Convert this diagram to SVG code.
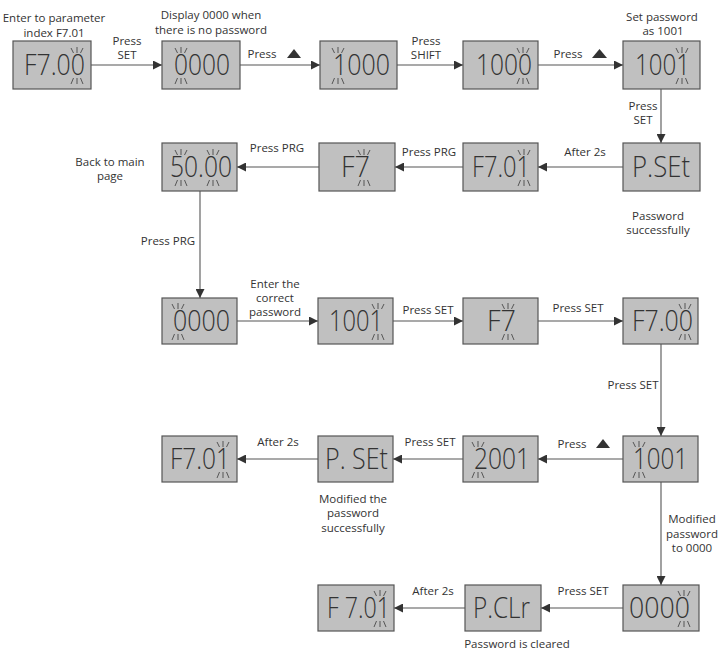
<svg xmlns="http://www.w3.org/2000/svg" xmlns:xlink="http://www.w3.org/1999/xlink" width="723" height="650" viewBox="0 0 723 650">
<style>
.box{fill:#c0c0c0;stroke:#555;stroke-width:1.2}
.disp{font-family:"Open Sans","Noto Sans",sans-serif;font-size:29px;font-weight:300;fill:#333}
.lbl{font-family:"Open Sans","Noto Sans",sans-serif;font-size:11.5px;fill:#333;text-anchor:middle}
.conn line{stroke:#555;stroke-width:1.1;fill:none}
.sp line{stroke:#555;stroke-width:1}
.tri{fill:#333}
</style>
<defs>
<marker id="ah" markerUnits="userSpaceOnUse" viewBox="0 0 10 10" markerWidth="9" markerHeight="9" refX="10" refY="5" orient="auto">
<path d="M0,0 L10,5 L0,10 z" fill="#333"/>
</marker>
<g id="sp" class="sp">
<line x1="-6" y1="-27" x2="-3.5" y2="-22"/>
<line x1="0" y1="-28" x2="0" y2="-22"/>
<line x1="6" y1="-27" x2="3.5" y2="-22"/>
<line x1="-3.5" y1="3" x2="-6" y2="9"/>
<line x1="0" y1="3" x2="0" y2="9"/>
<line x1="3.5" y1="3" x2="6" y2="9"/>
</g>
</defs>
<rect width="723" height="650" fill="#fff"/>

<g class="conn">
<line x1="91" y1="65" x2="162" y2="65" marker-end="url(#ah)"/>
<line x1="240" y1="65" x2="320" y2="65" marker-end="url(#ah)"/>
<line x1="397" y1="65" x2="463" y2="65" marker-end="url(#ah)"/>
<line x1="538" y1="65" x2="623" y2="65" marker-end="url(#ah)"/>
<line x1="661" y1="89" x2="661" y2="143" marker-end="url(#ah)"/>
<line x1="623" y1="167" x2="538" y2="167" marker-end="url(#ah)"/>
<line x1="463" y1="167" x2="395" y2="167" marker-end="url(#ah)"/>
<line x1="319" y1="167" x2="237" y2="167" marker-end="url(#ah)"/>
<line x1="200" y1="191" x2="200" y2="298" marker-end="url(#ah)"/>
<line x1="237" y1="321" x2="318" y2="321" marker-end="url(#ah)"/>
<line x1="393" y1="321" x2="463" y2="321" marker-end="url(#ah)"/>
<line x1="538" y1="321" x2="623" y2="321" marker-end="url(#ah)"/>
<line x1="661" y1="344" x2="661" y2="436" marker-end="url(#ah)"/>
<line x1="623" y1="459" x2="538" y2="459" marker-end="url(#ah)"/>
<line x1="463" y1="459" x2="393" y2="459" marker-end="url(#ah)"/>
<line x1="318" y1="459" x2="237" y2="459" marker-end="url(#ah)"/>
<line x1="661" y1="482" x2="661" y2="585" marker-end="url(#ah)"/>
<line x1="623" y1="608" x2="541" y2="608" marker-end="url(#ah)"/>
<line x1="465" y1="608" x2="394" y2="608" marker-end="url(#ah)"/>
</g>

<g id="n1"><rect class="box" x="13" y="41" width="78" height="48"/><text class="disp" x="24" y="75" textLength="61" lengthAdjust="spacingAndGlyphs">F7.00</text><use xlink:href="#sp" x="77" y="75"/></g>
<g id="n2"><rect class="box" x="162" y="41" width="78" height="48"/><text class="disp" x="174" y="75" textLength="56" lengthAdjust="spacingAndGlyphs">0000</text><use xlink:href="#sp" x="181" y="75"/></g>
<g id="n3"><rect class="box" x="320" y="41" width="77" height="48"/><text class="disp" x="333" y="75" textLength="57" lengthAdjust="spacingAndGlyphs">1000</text><use xlink:href="#sp" x="338" y="75"/></g>
<g id="n4"><rect class="box" x="463" y="41" width="75" height="48"/><text class="disp" x="476" y="75" textLength="56" lengthAdjust="spacingAndGlyphs">1000</text><use xlink:href="#sp" x="523" y="75"/></g>
<g id="n5"><rect class="box" x="623" y="41" width="77" height="48"/><text class="disp" x="635" y="75" textLength="55" lengthAdjust="spacingAndGlyphs">1001</text><use xlink:href="#sp" x="682" y="75"/></g>

<g id="n6"><rect class="box" x="162" y="143" width="75" height="48"/><text class="disp" x="170" y="177" textLength="62" lengthAdjust="spacingAndGlyphs">50.00</text><use xlink:href="#sp" x="181" y="177"/><use xlink:href="#sp" x="213" y="177"/></g>
<g id="n7"><rect class="box" x="319" y="143" width="76" height="48"/><text class="disp" x="341" y="177" textLength="29" lengthAdjust="spacingAndGlyphs">F7</text><use xlink:href="#sp" x="364" y="177"/></g>
<g id="n8"><rect class="box" x="463" y="143" width="75" height="48"/><text class="disp" x="472" y="177" textLength="58" lengthAdjust="spacingAndGlyphs">F7.01</text><use xlink:href="#sp" x="524" y="177"/></g>
<g id="n9"><rect class="box" x="623" y="143" width="77" height="48"/><text class="disp" x="632" y="177" textLength="58" lengthAdjust="spacingAndGlyphs">P.SEt</text></g>

<g id="n10"><rect class="box" x="162" y="298" width="75" height="46"/><text class="disp" x="173" y="331" textLength="57" lengthAdjust="spacingAndGlyphs">0000</text><use xlink:href="#sp" x="178" y="331"/></g>
<g id="n11"><rect class="box" x="318" y="298" width="75" height="46"/><text class="disp" x="329" y="331" textLength="54" lengthAdjust="spacingAndGlyphs">1001</text><use xlink:href="#sp" x="378" y="331"/></g>
<g id="n12"><rect class="box" x="463" y="298" width="75" height="46"/><text class="disp" x="487" y="331" textLength="29" lengthAdjust="spacingAndGlyphs">F7</text><use xlink:href="#sp" x="508" y="331"/></g>
<g id="n13"><rect class="box" x="623" y="298" width="75" height="46"/><text class="disp" x="632" y="331" textLength="61" lengthAdjust="spacingAndGlyphs">F7.00</text><use xlink:href="#sp" x="685" y="331"/></g>

<g id="n14"><rect class="box" x="162" y="436" width="75" height="46"/><text class="disp" x="170" y="469" textLength="60" lengthAdjust="spacingAndGlyphs">F7.01</text><use xlink:href="#sp" x="223" y="469"/></g>
<g id="n15"><rect class="box" x="318" y="436" width="75" height="46"/><text class="disp" x="325" y="469" textLength="63" lengthAdjust="spacingAndGlyphs">P. SEt</text></g>
<g id="n16"><rect class="box" x="463" y="436" width="75" height="46"/><text class="disp" x="474" y="469" textLength="56" lengthAdjust="spacingAndGlyphs">2001</text><use xlink:href="#sp" x="478" y="469"/></g>
<g id="n17"><rect class="box" x="623" y="436" width="75" height="46"/><text class="disp" x="633" y="469" textLength="55" lengthAdjust="spacingAndGlyphs">1001</text><use xlink:href="#sp" x="639" y="469"/></g>

<g id="n18"><rect class="box" x="318" y="585" width="76" height="46"/><text class="disp" x="327" y="618" textLength="63" lengthAdjust="spacingAndGlyphs">F 7.01</text><use xlink:href="#sp" x="380" y="618"/></g>
<g id="n19"><rect class="box" x="465" y="585" width="76" height="46"/><text class="disp" x="473" y="618" textLength="57" lengthAdjust="spacingAndGlyphs">P.CLr</text></g>
<g id="n20"><rect class="box" x="623" y="585" width="76" height="46"/><text class="disp" x="629" y="618" textLength="61" lengthAdjust="spacingAndGlyphs">0000</text><use xlink:href="#sp" x="684" y="618"/></g>

<g id="labels">
<text class="lbl" x="54" y="22">Enter to parameter</text>
<text class="lbl" x="54" y="37">index F7.01</text>
<text class="lbl" x="127" y="45">Press</text>
<text class="lbl" x="127" y="59">SET</text>
<text class="lbl" x="211" y="19">Display 0000 when</text>
<text class="lbl" x="211" y="34">there is no password</text>
<text class="lbl" x="262" y="58">Press</text>
<path class="tri" d="M287,58 L301,58 L294,49 z"/>
<text class="lbl" x="426" y="45">Press</text>
<text class="lbl" x="426" y="59">SHIFT</text>
<text class="lbl" x="568" y="58">Press</text>
<path class="tri" d="M592,58 L607,58 L599.5,49 z"/>
<text class="lbl" x="662" y="21">Set password</text>
<text class="lbl" x="663" y="35">as 1001</text>
<text class="lbl" x="643" y="110">Press</text>
<text class="lbl" x="643" y="124">SET</text>

<text class="lbl" x="277" y="152">Press PRG</text>
<text class="lbl" x="429" y="156">Press PRG</text>
<text class="lbl" x="585" y="156">After 2s</text>
<text class="lbl" x="110" y="166">Back to main</text>
<text class="lbl" x="110" y="180">page</text>
<text class="lbl" x="658" y="220">Password</text>
<text class="lbl" x="658" y="234">successfully</text>
<text class="lbl" x="168" y="245">Press PRG</text>

<text class="lbl" x="275" y="288">Enter the</text>
<text class="lbl" x="275" y="302">correct</text>
<text class="lbl" x="275" y="316">password</text>
<text class="lbl" x="428" y="314">Press SET</text>
<text class="lbl" x="578" y="312">Press SET</text>
<text class="lbl" x="633" y="389">Press SET</text>

<text class="lbl" x="278" y="446">After 2s</text>
<text class="lbl" x="430" y="446">Press SET</text>
<text class="lbl" x="572" y="448">Press</text>
<path class="tri" d="M596,448 L610,448 L603,439 z"/>
<text class="lbl" x="353" y="503">Modified the</text>
<text class="lbl" x="353" y="517">password</text>
<text class="lbl" x="353" y="532">successfully</text>
<text class="lbl" x="692" y="523">Modified</text>
<text class="lbl" x="692" y="538">password</text>
<text class="lbl" x="692" y="552">to 0000</text>

<text class="lbl" x="433" y="595">After 2s</text>
<text class="lbl" x="583" y="595">Press SET</text>
<text class="lbl" x="517" y="648">Password is cleared</text>
</g>
</svg>
